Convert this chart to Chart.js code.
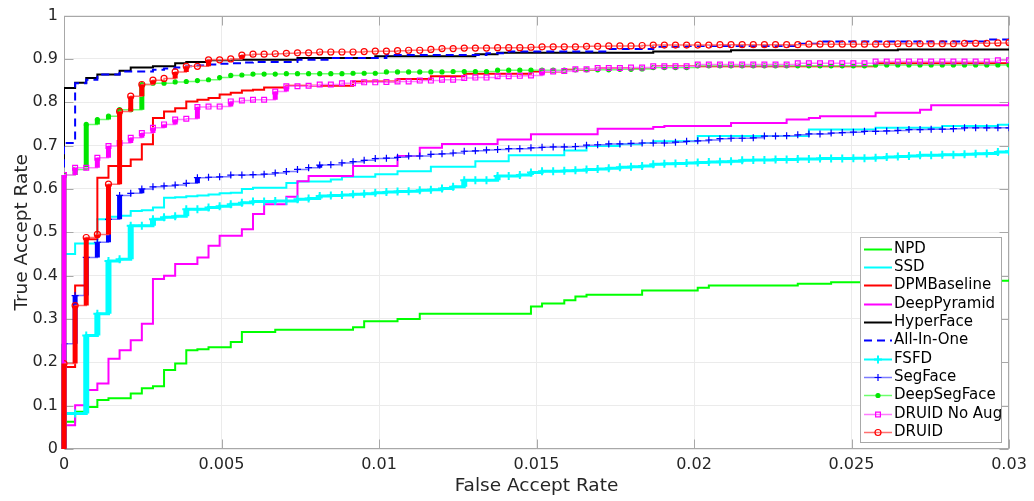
<!DOCTYPE html>
<html>
<head>
<meta charset="utf-8">
<title>ROC - True Accept Rate vs False Accept Rate</title>
<script src="https://cdn.jsdelivr.net/npm/chart.js@4.4.1/dist/chart.umd.min.js"></script>
<style>
  html, body { margin: 0; padding: 0; background: #fff; }
</style>
</head>
<body>
<canvas id="roc" width="1034" height="501"></canvas>
<script>
// ---- data ----
const xTickLabels = ['0', '0.005', '0.01', '0.015', '0.02', '0.025', '0.03'];
const yTickLabels = ['0', '0.1', '0.2', '0.3', '0.4', '0.5', '0.6', '0.7', '0.8', '0.9', '1'];
const seriesNames = ['NPD', 'SSD', 'DPMBaseline', 'DeepPyramid', 'HyperFace', 'All-In-One',
                     'FSFD', 'SegFace', 'DeepSegFace', 'DRUID No Aug', 'DRUID'];

// FAR sample positions shared by the marker curves
const farGrid = [
  0, 0.000353, 0.000706, 0.001059, 0.001412, 0.001765, 0.002118, 0.002471, 0.002824, 0.003176,
  0.003529, 0.003882, 0.004235, 0.004588, 0.004941, 0.005294, 0.005647, 0.006, 0.006353, 0.006706,
  0.007059, 0.007412, 0.007765, 0.008118, 0.008471, 0.008824, 0.009176, 0.009529, 0.009882, 0.010235,
  0.010588, 0.010941, 0.011294, 0.011647, 0.012, 0.012353, 0.012706, 0.013059, 0.013412, 0.013765,
  0.014118, 0.014471, 0.014824, 0.015176, 0.015529, 0.015882, 0.016235, 0.016588, 0.016941, 0.017294,
  0.017647, 0.018, 0.018353, 0.018706, 0.019059, 0.019412, 0.019765, 0.020118, 0.020471, 0.020824,
  0.021176, 0.021529, 0.021882, 0.022235, 0.022588, 0.022941, 0.023294, 0.023647, 0.024, 0.024353,
  0.024706, 0.025059, 0.025412, 0.025765, 0.026118, 0.026471, 0.026824, 0.027176, 0.027529, 0.027882,
  0.028235, 0.028588, 0.028941, 0.029294, 0.029647, 0.03
];

// curves without markers: [FAR, TAR] step corners
const npdSteps = [
  [0, 0], [0, 0.063], [0.000353, 0.086], [0.000706, 0.097], [0.001059, 0.113], [0.001412, 0.117],
  [0.002118, 0.128], [0.002471, 0.140], [0.002824, 0.145], [0.003176, 0.182], [0.003529, 0.197],
  [0.003882, 0.228], [0.004235, 0.230], [0.004588, 0.235], [0.005294, 0.247], [0.005647, 0.270],
  [0.006706, 0.275], [0.009176, 0.281], [0.009529, 0.295], [0.010588, 0.300], [0.011294, 0.312],
  [0.014824, 0.329], [0.015176, 0.336], [0.015882, 0.343], [0.016235, 0.352], [0.016588, 0.356],
  [0.018353, 0.366], [0.020118, 0.372], [0.020471, 0.377], [0.023294, 0.381], [0.024353, 0.385],
  [0.027176, 0.388], [0.03, 0.391]
];
const ssdSteps = [
  [0, 0.08], [0, 0.450], [0.000353, 0.474], [0.001059, 0.530], [0.001412, 0.536], [0.001765, 0.538],
  [0.002118, 0.549], [0.002471, 0.551], [0.002824, 0.557], [0.003176, 0.580], [0.003529, 0.581],
  [0.003882, 0.583], [0.004235, 0.585], [0.004588, 0.587], [0.004941, 0.590], [0.005294, 0.591],
  [0.005647, 0.600], [0.006, 0.603], [0.007059, 0.614], [0.007412, 0.617], [0.008471, 0.622],
  [0.008824, 0.628], [0.009882, 0.634], [0.010588, 0.641], [0.011647, 0.651], [0.013059, 0.664],
  [0.014118, 0.678], [0.015882, 0.689], [0.016588, 0.699], [0.017647, 0.703], [0.018353, 0.706],
  [0.018706, 0.710], [0.020118, 0.722], [0.023647, 0.737], [0.025765, 0.741], [0.027882, 0.745],
  [0.029647, 0.748], [0.03, 0.752]
];
const dpmSteps = [
  [0, 0], [0, 0.189], [0.000353, 0.377], [0.000706, 0.484], [0.001059, 0.626], [0.001412, 0.653],
  [0.002118, 0.668], [0.002471, 0.703], [0.002824, 0.764], [0.003176, 0.779], [0.003529, 0.786],
  [0.003882, 0.802], [0.004235, 0.806], [0.004588, 0.810], [0.004941, 0.818], [0.005294, 0.822],
  [0.005647, 0.827], [0.006, 0.829], [0.006353, 0.834], [0.007059, 0.838], [0.009176, 0.848],
  [0.010588, 0.854], [0.011647, 0.860], [0.012706, 0.866], [0.014824, 0.871], [0.015882, 0.875],
  [0.016941, 0.879], [0.018706, 0.883], [0.025765, 0.890], [0.03, 0.890]
];
const pyramidSteps = [
  [0, 0], [0, 0.055], [0.000353, 0.101], [0.000706, 0.136], [0.001059, 0.151], [0.001412, 0.208],
  [0.001765, 0.228], [0.002118, 0.251], [0.002471, 0.289], [0.002824, 0.392], [0.003176, 0.400],
  [0.003529, 0.427], [0.004235, 0.442], [0.004588, 0.469], [0.004941, 0.492], [0.005647, 0.507],
  [0.006, 0.542], [0.006353, 0.565], [0.007059, 0.582], [0.007412, 0.618], [0.007765, 0.630],
  [0.009176, 0.653], [0.010588, 0.676], [0.011294, 0.695], [0.012, 0.704], [0.013765, 0.714],
  [0.014824, 0.726], [0.016941, 0.739], [0.018706, 0.743], [0.019059, 0.745], [0.021176, 0.752],
  [0.022941, 0.760], [0.023647, 0.764], [0.024, 0.768], [0.025765, 0.776], [0.027176, 0.783],
  [0.027529, 0.793], [0.03, 0.800]
];
const hyperSteps = [
  [0, 0.65], [0, 0.833], [0.000353, 0.845], [0.000706, 0.856], [0.001059, 0.864], [0.001765, 0.873],
  [0.002118, 0.880], [0.002824, 0.883], [0.003529, 0.890], [0.003882, 0.893], [0.004588, 0.897],
  [0.005294, 0.898], [0.007412, 0.902], [0.009882, 0.906], [0.013059, 0.911], [0.013765, 0.914],
  [0.018706, 0.917], [0.021176, 0.920], [0.026471, 0.922], [0.03, 0.924]
];
const allInOneSteps = [
  [0, 0.65], [0, 0.706], [0.000353, 0.844], [0.000706, 0.852], [0.001059, 0.864], [0.001765, 0.871],
  [0.002824, 0.875], [0.003176, 0.878], [0.003529, 0.880], [0.003882, 0.883], [0.004235, 0.885],
  [0.004588, 0.887], [0.004941, 0.889], [0.005294, 0.890], [0.005647, 0.892], [0.006, 0.893],
  [0.007412, 0.898], [0.008471, 0.902], [0.010235, 0.909], [0.013412, 0.913], [0.014118, 0.917],
  [0.017294, 0.923], [0.018706, 0.928], [0.019765, 0.930], [0.023294, 0.935], [0.024, 0.940],
  [0.029294, 0.945], [0.03, 0.946]
];

// curves with markers: TAR at each farGrid position
const fsfdTAR = [
  0.082, 0.082, 0.262, 0.312, 0.434, 0.438, 0.515, 0.515, 0.530, 0.535,
  0.537, 0.553, 0.553, 0.557, 0.560, 0.565, 0.568, 0.571, 0.571, 0.572,
  0.572, 0.576, 0.578, 0.584, 0.585, 0.586, 0.588, 0.589, 0.591, 0.593,
  0.594, 0.595, 0.597, 0.598, 0.601, 0.605, 0.620, 0.620, 0.620, 0.630,
  0.630, 0.632, 0.638, 0.641, 0.641, 0.642, 0.643, 0.645, 0.646, 0.648,
  0.650, 0.651, 0.653, 0.657, 0.658, 0.659, 0.660, 0.661, 0.662, 0.663,
  0.664, 0.666, 0.667, 0.667, 0.668, 0.668, 0.669, 0.669, 0.670, 0.670,
  0.670, 0.671, 0.671, 0.672, 0.674, 0.675, 0.676, 0.678, 0.678, 0.679,
  0.679, 0.680, 0.681, 0.682, 0.685, 0.687
];
const segTAR = [
  0.243, 0.354, 0.442, 0.477, 0.530, 0.585, 0.590, 0.600, 0.605, 0.607,
  0.609, 0.613, 0.626, 0.627, 0.628, 0.632, 0.632, 0.633, 0.634, 0.637,
  0.640, 0.645, 0.649, 0.655, 0.656, 0.660, 0.663, 0.666, 0.670, 0.671,
  0.673, 0.676, 0.676, 0.680, 0.681, 0.683, 0.687, 0.688, 0.690, 0.691,
  0.693, 0.693, 0.695, 0.696, 0.697, 0.697, 0.698, 0.701, 0.702, 0.704,
  0.704, 0.705, 0.706, 0.706, 0.706, 0.708, 0.710, 0.711, 0.713, 0.716,
  0.717, 0.717, 0.718, 0.722, 0.722, 0.723, 0.725, 0.727, 0.727, 0.729,
  0.730, 0.731, 0.733, 0.733, 0.734, 0.735, 0.737, 0.737, 0.738, 0.738,
  0.739, 0.741, 0.741, 0.741, 0.741, 0.741
];
const deepSegTAR = [
  0.632, 0.645, 0.749, 0.760, 0.768, 0.783, 0.783, 0.841, 0.844, 0.844,
  0.847, 0.848, 0.850, 0.852, 0.857, 0.862, 0.863, 0.865, 0.865, 0.865,
  0.866, 0.866, 0.866, 0.866, 0.866, 0.866, 0.867, 0.867, 0.867, 0.870,
  0.870, 0.870, 0.870, 0.870, 0.870, 0.871, 0.871, 0.871, 0.871, 0.874,
  0.874, 0.874, 0.874, 0.874, 0.874, 0.874, 0.875, 0.875, 0.875, 0.875,
  0.876, 0.876, 0.877, 0.880, 0.880, 0.880, 0.880, 0.884, 0.884, 0.884,
  0.884, 0.884, 0.884, 0.884, 0.884, 0.884, 0.884, 0.884, 0.884, 0.884,
  0.884, 0.884, 0.884, 0.886, 0.886, 0.886, 0.886, 0.886, 0.886, 0.886,
  0.886, 0.886, 0.886, 0.886, 0.886, 0.886
];
const noAugTAR = [
  0.632, 0.649, 0.649, 0.672, 0.699, 0.706, 0.718, 0.729, 0.741, 0.749,
  0.760, 0.762, 0.789, 0.790, 0.790, 0.802, 0.804, 0.806, 0.806, 0.825,
  0.837, 0.837, 0.838, 0.841, 0.841, 0.844, 0.844, 0.846, 0.846, 0.847,
  0.848, 0.848, 0.850, 0.850, 0.852, 0.852, 0.856, 0.857, 0.857, 0.860,
  0.860, 0.861, 0.862, 0.871, 0.871, 0.872, 0.876, 0.876, 0.879, 0.879,
  0.879, 0.880, 0.880, 0.883, 0.883, 0.883, 0.883, 0.887, 0.887, 0.887,
  0.887, 0.887, 0.887, 0.887, 0.887, 0.887, 0.890, 0.890, 0.890, 0.890,
  0.890, 0.890, 0.890, 0.894, 0.894, 0.894, 0.894, 0.894, 0.894, 0.894,
  0.894, 0.894, 0.894, 0.894, 0.897, 0.897
];
const druidTAR = [
  0.197, 0.331, 0.488, 0.495, 0.611, 0.779, 0.814, 0.841, 0.851, 0.855,
  0.870, 0.883, 0.883, 0.898, 0.898, 0.900, 0.909, 0.911, 0.911, 0.912,
  0.913, 0.914, 0.914, 0.916, 0.916, 0.916, 0.916, 0.917, 0.918, 0.918,
  0.919, 0.920, 0.920, 0.922, 0.924, 0.924, 0.925, 0.925, 0.925, 0.926,
  0.926, 0.926, 0.927, 0.928, 0.928, 0.928, 0.928, 0.929, 0.929, 0.930,
  0.930, 0.930, 0.931, 0.932, 0.932, 0.932, 0.932, 0.932, 0.932, 0.933,
  0.933, 0.933, 0.933, 0.933, 0.933, 0.933, 0.933, 0.934, 0.934, 0.934,
  0.934, 0.934, 0.934, 0.934, 0.934, 0.935, 0.935, 0.935, 0.935, 0.935,
  0.935, 0.936, 0.936, 0.936, 0.937, 0.938
];

// ---- helpers ----
const FONT = 'DejaVu Sans';
const TEXT = '#262626';
const AXIS = '#a8a8a8';
Chart.defaults.font.family = FONT;

const fromSteps = pairs => pairs.map(p => ({ x: p[0], y: p[1] }));
// every marker curve starts at the origin, then follows the grid
const fromGrid = vals => [{ x: 0, y: 0 }].concat(vals.map((v, i) => ({ x: farGrid[i], y: v })));

function plainLine(label, data, color, extra) {
  return Object.assign({
    label, data,
    borderColor: color, backgroundColor: color,
    borderWidth: 2, stepped: true, pointRadius: 0, fill: false
  }, extra || {});
}
function markedLine(label, data, lineColor, markColor, style, r, extra) {
  return Object.assign({
    label, data,
    borderColor: lineColor, backgroundColor: lineColor,
    borderWidth: 1.5, stepped: true, fill: false,
    pointStyle: style, markerRadius: r,
    pointRadius: ctx => ctx.dataIndex === 0 ? 0 : r,
    pointBorderColor: markColor, pointBackgroundColor: 'rgba(0,0,0,0)',
    pointBorderWidth: 1.2,
    jumpColor: markColor, jumpWidth: 5
  }, extra || {});
}

const datasets = [
  plainLine(seriesNames[0], fromSteps(npdSteps), '#00ff00'),
  plainLine(seriesNames[1], fromSteps(ssdSteps), '#00ffff'),
  plainLine(seriesNames[2], fromSteps(dpmSteps), '#ff0000'),
  plainLine(seriesNames[3], fromSteps(pyramidSteps), '#ff00ff'),
  plainLine(seriesNames[4], fromSteps(hyperSteps), '#000000'),
  plainLine(seriesNames[5], fromSteps(allInOneSteps), '#0000ff', { borderDash: [8, 5] }),
  markedLine(seriesNames[6], fromGrid(fsfdTAR), '#00ffff', '#00ffff', 'cross', 4,
             { borderWidth: 3, pointBorderWidth: 2, jumpWidth: 6 }),
  markedLine(seriesNames[7], fromGrid(segTAR), '#7b7bff', '#0000ff', 'cross', 3.5),
  markedLine(seriesNames[8], fromGrid(deepSegTAR), '#6cff6c', '#00e600', 'circle', 2,
             { pointBackgroundColor: '#00e600' }),
  markedLine(seriesNames[9], fromGrid(noAugTAR), '#ff7bff', '#ff00ff', 'rect', 3.4),
  markedLine(seriesNames[10], fromGrid(druidTAR), '#ff7070', '#ff0000', 'circle', 3)
];
// later curves lie on top, as in the original figure
datasets.forEach((d, i) => { d.order = datasets.length - i; });

// thick vertical runs where many samples stack at one FAR
const jumpBars = {
  id: 'jumpBars',
  afterDatasetDraw(chart, args) {
    const ds = chart.data.datasets[args.index];
    if (!ds.jumpWidth) return;
    const { ctx, scales: { x, y } } = chart;
    ctx.save();
    ctx.strokeStyle = ds.jumpColor;
    ctx.lineWidth = ds.jumpWidth;
    ctx.beginPath();
    for (let i = 1; i < ds.data.length; i++) {
      const a = ds.data[i - 1], b = ds.data[i];
      if (b.y - a.y < 0.006) continue;
      const px = x.getPixelForValue(b.x);
      ctx.moveTo(px, y.getPixelForValue(a.y));
      ctx.lineTo(px, y.getPixelForValue(b.y));
    }
    ctx.stroke();
    ctx.restore();
  }
};

// box round the axes with inward ticks (drawn under the curves)
const axesFrame = {
  id: 'axesFrame',
  beforeDatasetsDraw(chart) {
    const { ctx, chartArea: a, scales: { x, y } } = chart;
    const L = Math.round(a.left) + 0.5, R = Math.round(a.right) - 0.5;
    const T = Math.round(a.top) + 0.5, B = Math.round(a.bottom) - 0.5;
    ctx.save();
    ctx.strokeStyle = AXIS;
    ctx.lineWidth = 1;
    ctx.strokeRect(L, T, R - L, B - T);
    ctx.beginPath();
    x.ticks.forEach(t => {
      const px = Math.round(x.getPixelForValue(t.value)) + 0.5;
      ctx.moveTo(px, B); ctx.lineTo(px, B - 9);
      ctx.moveTo(px, T); ctx.lineTo(px, T + 9);
    });
    y.ticks.forEach(t => {
      const py = Math.round(y.getPixelForValue(t.value)) + 0.5;
      ctx.moveTo(L, py); ctx.lineTo(L + 9, py);
      ctx.moveTo(R, py); ctx.lineTo(R - 9, py);
    });
    ctx.stroke();
    ctx.restore();
  }
};

// legend box in the lower right corner of the plot
const boxLegend = {
  id: 'boxLegend',
  afterDraw(chart) {
    const ctx = chart.ctx;
    const left = 860, top = 237, w = 141, h = 205, row = 18.35, first = 248.5;
    ctx.save();
    ctx.fillStyle = '#ffffff';
    ctx.fillRect(left, top, w, h);
    ctx.strokeStyle = AXIS;
    ctx.lineWidth = 1;
    ctx.strokeRect(left + 0.5, top + 0.5, w, h);
    chart.data.datasets.forEach((ds, i) => {
      const yy = Math.round(first + i * row) + 0.5;
      ctx.save();
      ctx.strokeStyle = ds.borderColor;
      ctx.lineWidth = Math.min(ds.borderWidth, 2);
      ctx.setLineDash(ds.borderDash || []);
      ctx.beginPath();
      ctx.moveTo(864, yy);
      ctx.lineTo(892, yy);
      ctx.stroke();
      ctx.restore();
      if (ds.markerRadius) {
        ctx.save();
        ctx.strokeStyle = ds.pointBorderColor;
        ctx.fillStyle = ds.pointBackgroundColor;
        ctx.lineWidth = ds.pointBorderWidth;
        Chart.helpers.drawPoint(ctx, {
          pointStyle: ds.pointStyle, radius: ds.markerRadius,
          borderWidth: ds.pointBorderWidth, rotation: 0
        }, 878, yy);
        ctx.restore();
      }
      ctx.fillStyle = '#000000';
      ctx.font = '15px "' + FONT + '"';
      ctx.textBaseline = 'middle';
      ctx.textAlign = 'left';
      ctx.fillText(ds.label, 894, yy);
    });
    ctx.restore();
  }
};

new Chart(document.getElementById('roc').getContext('2d'), {
  type: 'line',
  data: { datasets },
  options: {
    responsive: false,
    animation: false,
    events: [],
    layout: { padding: { top: 14, right: 25, bottom: 0, left: 0 } },
    plugins: {
      legend: { display: false },
      tooltip: { enabled: false }
    },
    scales: {
      x: {
        type: 'linear', min: 0, max: 0.03,
        ticks: {
          stepSize: 0.005, padding: 6, color: TEXT, font: { size: 16 },
          maxRotation: 0, autoSkip: false,
          callback: (v, i) => xTickLabels[i]
        },
        grid: { color: '#ebebeb', drawTicks: false },
        border: { display: false },
        title: {
          display: true, text: 'False Accept Rate', color: TEXT,
          font: { size: 18.5 }, padding: { top: 0, bottom: 4 }
        },
        afterFit: s => { s.height = 52; }
      },
      y: {
        type: 'linear', min: 0, max: 1,
        ticks: {
          stepSize: 0.1, padding: 6, color: TEXT, font: { size: 16 },
          callback: (v, i) => yTickLabels[i]
        },
        grid: { color: '#ebebeb', drawTicks: false },
        border: { display: false },
        title: {
          display: true, text: 'True Accept Rate', color: TEXT,
          font: { size: 18.5 }, padding: { top: 11, bottom: 0 }
        },
        afterFit: s => { s.width = 64; }
      }
    }
  },
  plugins: [axesFrame, jumpBars, boxLegend]
});
</script>
</body>
</html>
